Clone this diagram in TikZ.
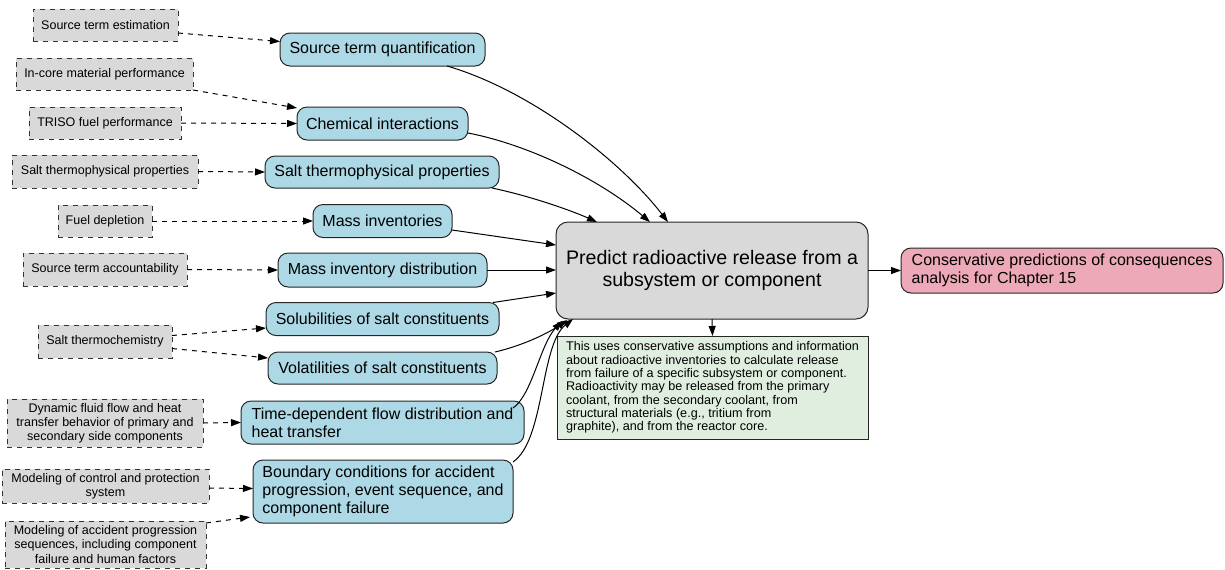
\documentclass[tikz,border=0pt]{standalone}
\usepackage{fontspec}
\setmainfont{Liberation Sans}
\usetikzlibrary{arrows.meta,calc}
\definecolor{inputgray}{HTML}{D9D9D9}
\definecolor{topicblue}{HTML}{ADD8E6}
\definecolor{notegreen}{HTML}{E0EEE0}
\definecolor{outpink}{HTML}{EEA9B8}
\begin{document}
\begin{tikzpicture}[x=0.5pt,y=-0.5pt,
  every node/.style={inner sep=0pt, outer sep=0pt},
  size/.style n args={2}{minimum width=#1*0.5pt, minimum height=#2*0.5pt},
  src/.style={draw=black!80, dash pattern=on 2.5pt off 2.5pt, line width=0.5pt,
    fill=inputgray, align=center, font=\fontsize{6.25}{7.1}\selectfont},
  topic/.style={draw=black!85, line width=0.5pt, fill=topicblue,
    rounded corners=5pt, align=center, font=\fontsize{8}{9}\selectfont},
  topicl/.style={topic, align=left},
  mainbox/.style={draw=black!85, line width=0.5pt, fill=inputgray,
    rounded corners=6pt, align=center, font=\fontsize{9.8}{10.7}\selectfont},
  notebox/.style={draw=black!85, line width=0.5pt, fill=notegreen,
    align=left, font=\fontsize{6.3}{6.67}\selectfont},
  outbox/.style={draw=black!85, line width=0.5pt, fill=outpink,
    rounded corners=5pt, align=left, font=\fontsize{8}{9}\selectfont},
  tip/.style={-{Triangle[length=5pt,width=3.5pt]}},
  dep/.style={tip, line width=0.5pt, dash pattern=on 2.5pt off 2.5pt},
  flow/.style={tip, line width=0.5pt}
]
\useasboundingbox (0,0) rectangle (1225,569);

% input sources
\node[src, size={145}{32}] (g1) at (105.5,25) {Source term estimation};
\node[src, size={177}{32}] (g2) at (104.5,74) {In-core material performance};
\node[src, size={152}{32}] (g3) at (105,123) {TRISO fuel performance};
\node[src, size={186}{33}] (g4) at (105,171.5) {Salt thermophysical properties};
\node[src, size={94}{32}] (g5) at (105,221) {Fuel depletion};
\node[src, size={164}{33}] (g6) at (105,269.5) {Source term accountability};
\node[src, size={134}{33}] (g7) at (105,341.5) {Salt thermochemistry};
\node[src, size={196}{48}] (g8) at (105,423) {Dynamic fluid flow and heat\\transfer behavior of primary and\\secondary side components};
\node[src, size={207}{34}] (g9) at (105.5,486) {Modeling of control and protection\\system};
\node[src, size={201}{47}] (g10) at (105.5,544.5) {Modeling of accident progression\\sequences, including component\\failure and human factors};

% analysis topics
\node[topic, size={205}{33}] (A) at (382.5,49.5) {Source term quantification};
\node[topic, size={171}{33}] (B) at (382.5,123.5) {Chemical interactions};
\node[topic, size={234}{32}] (C) at (382,172) {Salt thermophysical properties};
\node[topic, size={139}{33}] (D) at (382.5,221) {Mass inventories};
\node[topic, size={209}{34}] (E) at (382.5,270) {Mass inventory distribution};
\node[topic, size={233}{33}] (F) at (382.5,319) {Solubilities of salt constituents};
\node[topic, size={229}{32}] (G) at (382.5,368) {Volatilities of salt constituents};
\node[topicl, size={283}{43}] (H) at (382.5,422.5) {Time-dependent flow distribution and\\heat transfer};
\node[topicl, size={260}{63}] (I) at (383,491.5) {Boundary conditions for accident\\progression, event sequence, and\\component failure};

% central task, its note and its output
\node[mainbox, size={312}{97}] (M) at (712,270.5) {Predict radioactive release from a\\subsystem or component};
\node[notebox, size={311}{103}] (N) at (712.5,387.5) {This uses conservative assumptions and information\\about radioactive inventories to calculate release\\from failure of a specific subsystem or component.\\Radioactivity may be released from the primary\\coolant, from the secondary coolant, from\\structural materials (e.g., tritium from\\graphite), and from the reactor core.};
\node[outbox, size={322}{45}] (P) at (1062,270.5) {Conservative predictions of consequences\\analysis for Chapter 15};

% dependencies of the topics on their inputs
\draw[dep] ($(g1.east)+(0,8)$) -- ($(A.west)+(0,-8)$);
\draw[dep] (g2.south east) -- ($(B.north west)+(0,1)$);
\draw[dep] (g3.east) -- (B.west);
\draw[dep] (g4.east) -- (C.west);
\draw[dep] (g5.east) -- (D.west);
\draw[dep] (g6.east) -- (E.west);
\draw[dep] ($(g7.east)+(0,-6)$) -- ($(F.west)+(0,9)$);
\draw[dep] ($(g7.east)+(0,7)$) -- ($(G.west)+(0,-10)$);
\draw[dep] (g8.east) -- (H.west);
\draw[dep] ($(g9.east)+(0,2)$) -- ($(I.west)+(0,-3)$);
\draw[dep] ($(g10.north east)+(0,2)$) -- ($(I.south west)+(-3,-6)$);

% topics feeding the release prediction
\draw[flow] ($(A.south east)+(-38,0)$) .. controls (530,90) and (620,160) .. ($(M.north west)+(112,0)$);
\draw[flow] ($(B.east)+(0,9.5)$) .. controls (530,145) and (600,180) .. ($(M.north west)+(94,0)$);
\draw[flow] ($(C.south east)+(-7,0)$) .. controls (530,196) and (570,210) .. ($(M.north west)+(41,0)$);
\draw[flow] ($(D.east)+(0,9)$) -- ($(M.west)+(0,-25.5)$);
\draw[flow] (E.east) -- (E.east -| M.west);
\draw[flow] ($(F.north east)+(-6,0)$) -- ($(M.west)+(0,22.5)$);
\draw[flow] ($(G.north east)+(-2,0)$) .. controls (525,345) and (550,332) .. ($(M.south west)+(11,1)$);
\draw[flow] ($(H.north east)+(-11,7)$) .. controls (532,395) and (540,345) .. ($(M.south west)+(6,2)$);
\draw[flow] ($(I.north east)+(0,2)$) .. controls (545,440) and (540,345) .. ($(M.south west)+(17,0)$);

% prediction to note and to output
\draw[flow] (M.south) -- (N.north);
\draw[flow] (M.east) -- (P.west);
\end{tikzpicture}
\end{document}
